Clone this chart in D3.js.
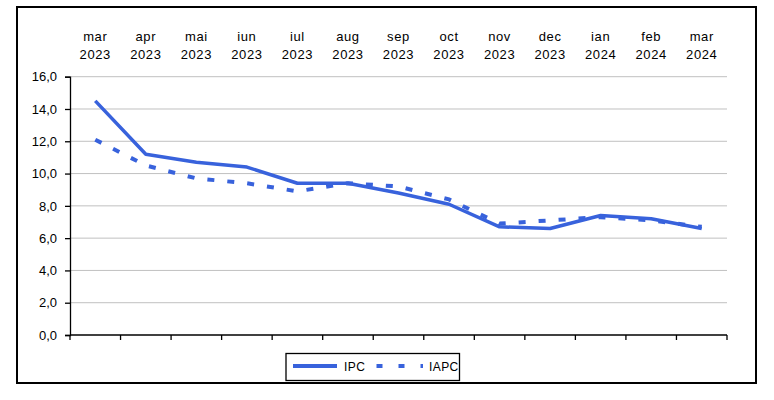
<!DOCTYPE html>
<html>
<head>
<meta charset="utf-8">
<script src="https://cdn.jsdelivr.net/npm/d3@7"></script>
<style>
  body { margin: 0; background: #fff; }
  svg { display: block; font-family: "Liberation Sans", Arial, sans-serif; }
</style>
</head>
<body>
<svg id="chart" width="774" height="400"></svg>
<script>
const months = ['mar', 'apr', 'mai', 'iun', 'iul', 'aug', 'sep', 'oct', 'nov', 'dec', 'ian', 'feb', 'mar'];
const years = ['2023', '2023', '2023', '2023', '2023', '2023', '2023', '2023', '2023', '2023', '2024', '2024', '2024'];
const ipc = [14.5, 11.2, 10.7, 10.4, 9.4, 9.4, 8.8, 8.1, 6.7, 6.6, 7.4, 7.2, 6.6];
const iapc = [12.1, 10.5, 9.7, 9.4, 8.9, 9.4, 9.2, 8.4, 6.9, 7.1, 7.3, 7.1, 6.7];
const yTicks = [0, 2, 4, 6, 8, 10, 12, 14, 16];
const seriesNames = ['IPC', 'IAPC'];

const blue = '#3862dc';
const plot = { left: 70, right: 727, top: 76.7, bottom: 335 };

const svg = d3.select('#chart');

// outer frame
svg.append('rect')
  .attr('x', 17).attr('y', 7)
  .attr('width', 739).attr('height', 376)
  .attr('fill', '#fff').attr('stroke', '#000').attr('stroke-width', 2);

const x = d3.scaleBand()
  .domain(d3.range(months.length))
  .range([plot.left, plot.right]);

const y = d3.scaleLinear()
  .domain([0, 16])
  .range([plot.bottom, plot.top]);

const cx = (i) => x(i) + x.bandwidth() / 2;

// gridlines
svg.append('g')
  .selectAll('line')
  .data(yTicks.filter(d => d > 0))
  .join('line')
  .attr('x1', plot.left).attr('x2', plot.right)
  .attr('y1', d => y(d)).attr('y2', d => y(d))
  .attr('stroke', '#c0c0c0').attr('stroke-width', 1);

// y axis
const yAxis = svg.append('g')
  .attr('transform', `translate(${plot.left},0)`)
  .call(d3.axisLeft(y).tickValues(yTicks).tickSize(5).tickPadding(8)
    .tickFormat(d => d3.format('.1f')(d).replace('.', ',')));
yAxis.select('.domain').attr('stroke', '#000').attr('stroke-width', 1.3);
yAxis.selectAll('.tick line').attr('stroke', '#000').attr('stroke-width', 1.3);
yAxis.selectAll('.tick text').attr('font-size', 13).attr('fill', '#000')
  .attr('font-family', '"Liberation Sans", Arial, sans-serif');

// x axis line with ticks at band boundaries
const boundaries = d3.range(months.length + 1).map(i => i < months.length ? x(i) : plot.right);
svg.append('line')
  .attr('x1', plot.left).attr('x2', plot.right)
  .attr('y1', plot.bottom).attr('y2', plot.bottom)
  .attr('stroke', '#000').attr('stroke-width', 1.3);
svg.append('g')
  .selectAll('line')
  .data(boundaries)
  .join('line')
  .attr('x1', d => d).attr('x2', d => d)
  .attr('y1', plot.bottom).attr('y2', plot.bottom + 5)
  .attr('stroke', '#000').attr('stroke-width', 1.3);

// month labels on top
const labels = svg.append('g')
  .selectAll('text')
  .data(months)
  .join('text')
  .attr('x', (d, i) => cx(i))
  .attr('text-anchor', 'middle')
  .attr('font-size', 13)
  .attr('letter-spacing', 0.6)
  .attr('fill', '#000');
labels.append('tspan').attr('x', (d, i) => cx(i)).attr('y', 40.5).text(d => d);
labels.append('tspan').attr('x', (d, i) => cx(i)).attr('y', 58.5).text((d, i) => years[i]);

// lines
const line = d3.line()
  .x((d, i) => cx(i))
  .y(d => y(d));

svg.append('path')
  .datum(iapc)
  .attr('d', line)
  .attr('fill', 'none')
  .attr('stroke', blue)
  .attr('stroke-width', 4)
  .attr('stroke-dasharray', '7 13');

svg.append('path')
  .datum(ipc)
  .attr('d', line)
  .attr('fill', 'none')
  .attr('stroke', blue)
  .attr('stroke-width', 3.5)
  .attr('stroke-linejoin', 'round');

// legend
const legend = svg.append('g');
legend.append('rect')
  .attr('x', 286).attr('y', 353.5)
  .attr('width', 173.5).attr('height', 27)
  .attr('fill', '#fff').attr('stroke', '#000').attr('stroke-width', 1.3);
legend.append('line')
  .attr('x1', 293).attr('x2', 337).attr('y1', 366).attr('y2', 366)
  .attr('stroke', blue).attr('stroke-width', 4);
legend.append('text')
  .attr('x', 344).attr('y', 370.5)
  .attr('font-size', 12).attr('letter-spacing', 0.4).attr('fill', '#000')
  .text(seriesNames[0]);
legend.append('line')
  .attr('x1', 376.5).attr('x2', 423).attr('y1', 366).attr('y2', 366)
  .attr('stroke', blue).attr('stroke-width', 4)
  .attr('stroke-dasharray', '6 16');
legend.append('text')
  .attr('x', 429).attr('y', 370.5)
  .attr('font-size', 12).attr('letter-spacing', 0.4).attr('fill', '#000')
  .text(seriesNames[1]);
</script>
</body>
</html>
